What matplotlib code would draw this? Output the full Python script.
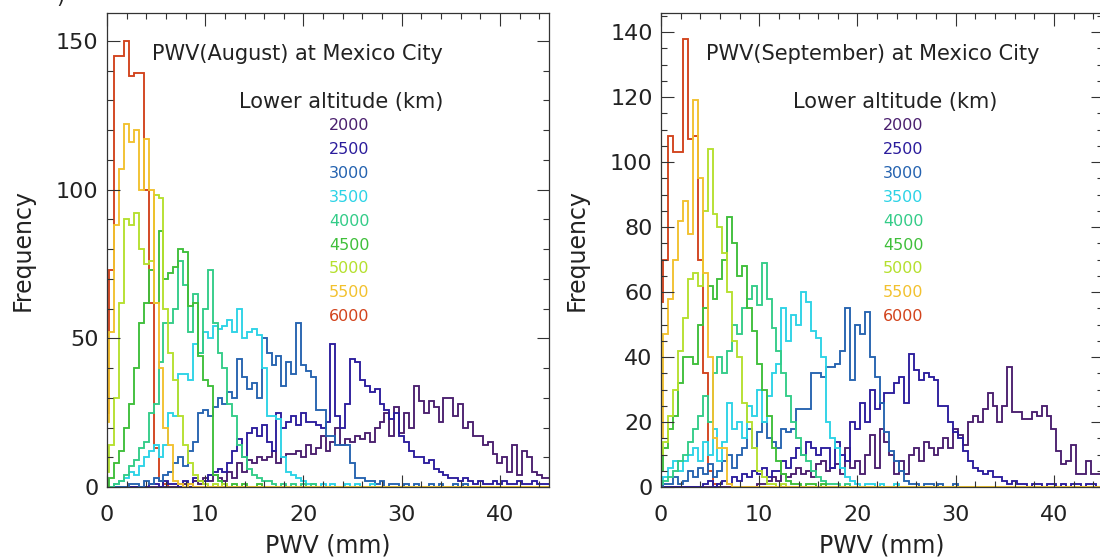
import numpy as np
import matplotlib
matplotlib.use("Agg")
import matplotlib.pyplot as plt
from matplotlib.ticker import MultipleLocator

# ---------------- data ----------------
altitudes = ["2000", "2500", "3000", "3500", "4000", "4500", "5000", "5500", "6000"]
colors = ["#4a1f6e", "#2b1c9c", "#2563b0", "#2cd3e6", "#33cc88",
          "#3fbf3a", "#b5e02e", "#f2c12e", "#d2431c"]
bin_width = 0.5
n_bins = 91                      # PWV bin centres 0 ... 45 mm

# August (frequency per 0.5 mm bin, starting at 0 mm)
aug_2000 = [0]*15 + [1, 1, 0, 2, 1, 3, 2, 4, 3, 2, 5, 3, 8, 5, 9, 8, 10, 9, 10, 12,
                     8, 10, 11, 11, 12, 10, 14, 11, 13, 17, 12, 15, 20, 14, 16, 15, 17, 16, 18, 15,
                     20, 22, 25, 17, 27, 18, 25, 20, 34, 29, 25, 29, 27, 22, 30, 30, 24, 28, 20, 22,
                     17, 17, 14, 15, 11, 8, 10, 5, 14, 4, 12, 10, 5, 4, 3, 3]
aug_2500 = [0]*9 + [1, 1, 0, 2, 1, 1, 0, 2, 1, 3, 2, 2, 4, 5, 6, 5, 8, 12, 16, 10,
                    18, 20, 17, 21, 15, 12, 25, 20, 22, 24, 21, 25, 22, 22, 21, 20, 22, 48, 24, 20,
                    28, 43, 42, 36, 34, 32, 33, 28, 26, 23, 25, 17, 15, 12, 10, 10, 8, 9, 6, 5,
                    4, 3, 3, 2, 3, 2, 1, 2, 1, 1, 2, 1, 2, 1, 1, 2, 1, 1, 2, 1, 1, 1]
aug_3000 = [0, 0, 0, 0, 0, 1, 1, 0, 2, 1, 3, 2, 4, 5, 8, 10, 7, 12, 15, 25,
            26, 24, 27, 30, 28, 32, 30, 43, 37, 33, 35, 30, 50, 45, 41, 44, 34, 42, 38, 55,
            41, 39, 37, 26, 26, 17, 17, 14, 14, 14, 8, 3, 3, 2, 2, 1, 2, 0, 1, 1,
            0, 1, 0, 1, 0, 0, 1, 0, 1, 0, 0, 1, 0, 1]
aug_3500 = [0, 0, 1, 2, 3, 5, 4, 7, 10, 12, 14, 10, 14, 25, 24, 38, 38, 36, 48, 45,
            52, 50, 54, 53, 54, 56, 52, 60, 50, 52, 53, 51, 40, 24, 24, 23, 10, 5, 4, 3,
            2, 1, 1, 0, 1, 0, 1, 0, 0, 1, 0, 1, 0, 0, 1]
aug_4000 = [0, 0, 1, 2, 4, 7, 9, 13, 15, 25, 28, 42, 55, 55, 60, 76, 68, 52, 65, 45,
            60, 73, 55, 45, 40, 28, 24, 14, 10, 6, 4, 3, 2, 2, 1, 0, 1, 0, 1, 0, 1, 0, 1]
aug_4500 = [0, 3, 8, 12, 20, 28, 40, 55, 62, 73, 62, 86, 70, 72, 74, 80, 79, 61, 62, 44,
            36, 34, 4, 2, 1, 0, 1, 0, 1, 0, 0, 1]
aug_5000 = [5, 14, 30, 62, 90, 88, 92, 80, 75, 76, 98, 97, 60, 45, 36, 24, 14, 8, 4, 2,
            1, 0, 1, 0, 1]
aug_5500 = [22, 52, 88, 107, 122, 116, 120, 100, 117, 100, 62, 40, 20, 14, 2, 1, 0, 1]
aug_6000 = [25, 73, 145, 145, 150, 138, 139, 139, 100, 62, 13, 2, 1]

# September
sep_2000 = [0]*20 + [1, 1, 2, 3, 2, 4, 3, 4, 6, 4, 5, 3, 7, 8, 5, 6, 7, 4, 12, 6,
                     8, 4, 10, 16, 6, 18, 14, 10, 4, 8, 4, 10, 12, 8, 14, 12, 10, 12, 15, 12,
                     18, 16, 13, 20, 22, 20, 24, 29, 25, 20, 25, 37, 23, 23, 21, 21, 23, 22, 25, 22,
                     18, 11, 7, 8, 13, 4, 4, 8, 4, 4, 3]
sep_2500 = [0]*9 + [1, 2, 0, 1, 2, 1, 3, 2, 4, 3, 5, 4, 6, 3, 5, 5, 8, 6, 9, 12,
                    10, 14, 12, 10, 12, 12, 6, 14, 10, 8, 20, 18, 26, 20, 30, 24, 26, 29, 29, 32,
                    34, 26, 41, 36, 33, 35, 34, 33, 25, 25, 20, 17, 15, 11, 8, 6, 5, 4, 5, 3,
                    3, 2, 1, 2, 1, 1, 0, 1, 1, 0, 1, 1, 0, 1, 0, 1, 1, 0, 1, 1, 0, 1]
sep_3000 = [0, 1, 1, 3, 1, 2, 5, 3, 6, 4, 7, 3, 5, 8, 10, 6, 10, 12, 18, 12,
            17, 20, 15, 14, 12, 18, 17, 18, 24, 24, 24, 35, 35, 34, 37, 37, 38, 42, 55, 33,
            50, 47, 54, 40, 34, 26, 17, 11, 8, 5, 2, 1, 1, 0, 1, 1, 0, 1, 0, 0, 1]
sep_3500 = [1, 3, 6, 8, 5, 8, 10, 12, 8, 14, 10, 18, 8, 14, 26, 18, 20, 15, 25, 22,
            30, 20, 28, 35, 38, 55, 45, 53, 50, 60, 57, 48, 46, 40, 20, 15, 12, 6, 3, 2,
            1, 0, 1, 1, 0, 1, 0, 0, 1]
sep_4000 = [1, 2, 3, 5, 8, 10, 14, 18, 22, 28, 20, 35, 40, 35, 42, 50, 47, 55, 58, 62,
            56, 69, 58, 49, 42, 35, 28, 20, 15, 10, 8, 5, 3, 2, 1, 1, 1, 0, 1]
sep_4500 = [5, 12, 18, 22, 32, 40, 40, 38, 50, 55, 62, 58, 64, 70, 83, 75, 65, 68, 55, 48,
            38, 30, 22, 12, 8, 4, 2, 1, 1, 0, 1, 1, 0, 1]
sep_5000 = [10, 14, 22, 30, 42, 52, 64, 66, 62, 85, 104, 84, 80, 72, 60, 45, 40, 26, 20, 12,
            5, 3, 1, 1, 0, 1]
sep_5500 = [15, 47, 58, 70, 82, 88, 78, 119, 95, 66, 40, 15, 12, 12, 1]
sep_6000 = [57, 70, 108, 103, 103, 138, 107, 108, 70, 35, 5, 1]

aug_series = [aug_2000, aug_2500, aug_3000, aug_3500, aug_4000,
              aug_4500, aug_5000, aug_5500, aug_6000]
sep_series = [sep_2000, sep_2500, sep_3000, sep_3500, sep_4000,
              sep_4500, sep_5000, sep_5500, sep_6000]

x_ticks = [0, 10, 20, 30, 40]
aug_yticks = [0, 50, 100, 150]
sep_yticks = [0, 20, 40, 60, 80, 100, 120, 140]

# ---------------- drawing ----------------
W, H = 1100, 558
fig = plt.figure(figsize=(W / 100, H / 100), dpi=100)
TXT = "#222222"


def px_axes(l, r, t, b):
    return fig.add_axes([l / W, 1 - b / H, (r - l) / W, (b - t) / H])


def full(v):
    v = list(v)[:n_bins]
    return np.array(v + [0] * (n_bins - len(v)), dtype=float)


centres = np.arange(n_bins) * bin_width
edges = np.append(centres - bin_width / 2, centres[-1] + bin_width / 2)

draw_order = [8, 0, 1, 2, 3, 4, 5, 6, 7]


def panel(ax, series, ymax, yticks, yminor, month, xoff):
    for i in draw_order:
        ax.stairs(full(series[i]), edges, baseline=None, color=colors[i], lw=1.35)
    ax.set_xlim(0, 45)
    ax.set_ylim(0, ymax)
    ax.set_xticks(x_ticks)
    ax.set_yticks(yticks)
    ax.xaxis.set_minor_locator(MultipleLocator(2))
    ax.yaxis.set_minor_locator(MultipleLocator(yminor))
    ax.tick_params(which="both", direction="in", top=True, right=True,
                   colors="#333333", labelcolor=TXT, width=0.8)
    ax.tick_params(which="major", length=9, labelsize=16)
    ax.tick_params(which="minor", length=4.5)
    ax.tick_params(axis="x", which="major", pad=13)
    ax.tick_params(axis="y", which="major", pad=6)
    for s in ax.spines.values():
        s.set_color("#333333")
        s.set_linewidth(0.9)
    # annotations (pixel positions)
    fig.text((152 + xoff) / W, 1 - 54 / H, f"PWV({month}) at Mexico City",
             fontsize=15, color=TXT, va="center", ha="left")
    fig.text((239 + xoff) / W, 1 - 102 / H, "Lower altitude (km)",
             fontsize=15, color=TXT, va="center", ha="left")
    for i, lab in enumerate(altitudes):
        fig.text((349 + xoff) / W, 1 - (126 + 23.8 * i) / H, lab,
                 fontsize=11.5, color=colors[i], va="center", ha="center")
    fig.text((23 + xoff) / W, 1 - 250 / H, "Frequency", rotation=90,
             fontsize=17, color=TXT, va="center", ha="center")
    fig.text((328 + xoff) / W, 1 - 546 / H, "PWV (mm)",
             fontsize=17, color=TXT, va="center", ha="center")


axL = px_axes(107, 549, 12.5, 487)
axR = px_axes(661, 1103, 12.5, 487)
panel(axL, aug_series, 159.5, aug_yticks, 10, "August", 0)
panel(axR, sep_series, 146, sep_yticks, 5, "September", 554)

fig.text(60 / W, 1 - 3 / H, ")", fontsize=15, color=TXT, va="baseline", ha="center")

fig.savefig("out.png", dpi=100)
